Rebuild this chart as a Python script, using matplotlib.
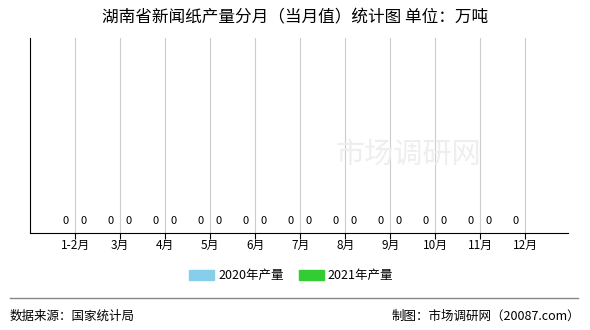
import matplotlib
matplotlib.use("Agg")
import matplotlib.pyplot as plt
from matplotlib.patches import Patch
import numpy as np

plt.rcParams['font.family'] = ['Noto Sans CJK SC', 'DejaVu Sans']

months = ["1-2月", "3月", "4月", "5月", "6月", "7月", "8月", "9月", "10月", "11月", "12月"]
prod_2020 = [0, 0, 0, 0, 0, 0, 0, 0, 0, 0, 0]
prod_2021 = [0, 0, 0, 0, 0, 0, 0, 0, 0, 0]

c2020 = "#87CEEB"
c2021 = "#32CD32"

fig = plt.figure(figsize=(5.9, 3.3), dpi=100)
ax = fig.add_axes([30/590, 1-233/330, 538/590, 195/330])

x = np.arange(1, len(months) + 1)
w = 0.36
x20 = x[:len(prod_2020)] - 0.21
x21 = x[:len(prod_2021)] + 0.19
ax.bar(x20, prod_2020, width=w, color=c2020)
ax.bar(x21, prod_2021, width=w, color=c2021)
for xi, v in zip(x20, prod_2020):
    ax.annotate(str(v), (xi, v), xytext=(0, 5), textcoords="offset points",
                ha="center", va="bottom", fontsize=8)
for xi, v in zip(x21, prod_2021):
    ax.annotate(str(v), (xi, v), xytext=(0, 5), textcoords="offset points",
                ha="center", va="bottom", fontsize=8)

ax.set_xlim(0, 11.95)
ax.set_ylim(0, 1)
ax.set_xticks(x)
ax.set_xticklabels(months, fontsize=8.5)
ax.tick_params(axis="x", length=4, width=0.8, pad=0)
ax.set_yticks([])
ax.grid(axis="x", color="#cccccc", linewidth=0.8)
ax.set_axisbelow(True)
for s in ["top", "right"]:
    ax.spines[s].set_visible(False)
ax.spines["left"].set_color("black")
ax.spines["bottom"].set_color("black")

# watermark
fig.text(408/590, 1-155/330, "市场调研网", fontsize=21, color="#eeeeee", ha="center", va="center", zorder=0)

fig.text(0.5, 1-18/330, "湖南省新闻纸产量分月（当月值）统计图 单位：万吨",
         ha="center", va="center", fontsize=12)

handles = [Patch(color=c2020, label="2020年产量"), Patch(color=c2021, label="2021年产量")]
fig.legend(handles=handles, loc="center", bbox_to_anchor=(291/590, 1-276/330), ncol=2,
           frameon=False, fontsize=9, handlelength=2.0, handleheight=0.8,
           columnspacing=1.2, handletextpad=0.3)

fig.add_artist(plt.Line2D([10/590, 578/590], [1-298/330, 1-298/330], color="#888888", linewidth=1))
fig.text(10/590, 1-316/330, "数据来源：国家统计局", ha="left", va="center", fontsize=9)
fig.text(580/590, 1-316/330, "制图：市场调研网（20087.com）", ha="right", va="center", fontsize=9)

fig.savefig("out.png", dpi=100)
